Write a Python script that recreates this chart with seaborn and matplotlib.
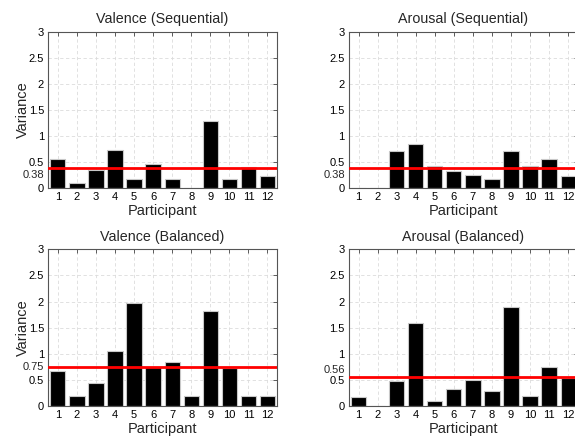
import numpy as np
import pandas as pd
import matplotlib
matplotlib.use("Agg")
import matplotlib.pyplot as plt
import seaborn as sns

participants = list(range(1, 13))

valence_sequential = [0.56, 0.10, 0.35, 0.73, 0.18, 0.46, 0.18, 0.0, 1.29, 0.18, 0.40, 0.24]
arousal_sequential = [0.0, 0.0, 0.71, 0.85, 0.43, 0.34, 0.26, 0.18, 0.71, 0.43, 0.56, 0.24]
valence_balanced = [0.675, 0.20, 0.45, 1.06, 1.98, 0.76, 0.84, 0.20, 1.82, 0.74, 0.20, 0.20]
arousal_balanced = [0.18, 0.0, 0.48, 1.59, 0.10, 0.34, 0.51, 0.29, 1.89, 0.20, 0.76, 0.54]

titles = ["Valence (Sequential)", "Arousal (Sequential)",
          "Valence (Balanced)", "Arousal (Balanced)"]
means = [0.38, 0.38, 0.75, 0.56]
mean_labels = ["0.38", "0.38", "0.75", "0.56"]
y_ticks = [0, 0.5, 1, 1.5, 2, 2.5, 3]
y_tick_labels = ["0", "0.5", "1", "1.5", "2", "2.5", "3"]

series = [valence_sequential, arousal_sequential, valence_balanced, arousal_balanced]

sns.set_style("white")
plt.rcParams["font.family"] = ["Liberation Sans", "DejaVu Sans"]

fig = plt.figure(figsize=(5.75, 4.4), dpi=100)

W, H = 575.0, 440.0
# axes rectangles in pixels: left, top, right, bottom
boxes = [
    (48.3, 31.7, 277.0, 188.3),
    (349.0, 31.7, 577.7, 188.3),
    (48.3, 249.3, 277.0, 406.3),
    (349.0, 249.3, 577.7, 406.3),
]
# vertical nudge (points) of the mean label so it clears the 0.5 label
mean_label_shift = [-4.5, -4.5, 0.0, 5.0]

TICK_SIZE = 8.0

for i, (vals, title, m, mlab, box) in enumerate(zip(series, titles, means, mean_labels, boxes)):
    l, t, r, b = box
    ax = fig.add_axes([l / W, 1 - b / H, (r - l) / W, (b - t) / H])
    df = pd.DataFrame({"Participant": participants, "Variance": vals})
    sns.barplot(data=df, x="Participant", y="Variance", native_scale=True,
                color="black", edgecolor="#c8c8c8", linewidth=0.8,
                width=0.8, saturation=1, ax=ax, zorder=2)
    ax.axhline(m, color="#ff0000", linewidth=2.0, zorder=3)

    ax.set_xlim(0.5, 12.5)
    ax.set_ylim(0, 3)
    ax.set_xticks(participants)
    ax.set_xticklabels([str(p) for p in participants])
    ax.set_yticks(y_ticks)
    ax.set_yticklabels(y_tick_labels)

    # mean value written on the y axis next to its line
    ax.annotate(mlab, xy=(0, m), xycoords=("axes fraction", "data"),
                xytext=(-3, mean_label_shift[i]), textcoords="offset points",
                ha="right", va="center", fontsize=TICK_SIZE)

    for gx in participants:
        ax.axvline(gx, color="#dcdcdc", linestyle=(0, (4, 3)), linewidth=0.6, zorder=0)
    for gy in y_ticks[1:-1]:
        ax.axhline(gy, color="#dcdcdc", linestyle=(0, (4, 3)), linewidth=0.6, zorder=0)

    ax.tick_params(axis="both", direction="in", length=3, width=0.6,
                   labelsize=TICK_SIZE, pad=3, top=True, right=True, colors="#444444",
                   labelcolor="black")
    for sp in ax.spines.values():
        sp.set_color("#555555")
        sp.set_linewidth(0.8)

    ax.set_title(title, fontsize=10.3, pad=6)
    ax.set_xlabel("Participant", fontsize=10.5, labelpad=1)
    if i % 2 == 0:
        ax.set_ylabel("Variance", fontsize=10.5, labelpad=-1)
    else:
        ax.set_ylabel("")

fig.savefig("out.png", dpi=100)
